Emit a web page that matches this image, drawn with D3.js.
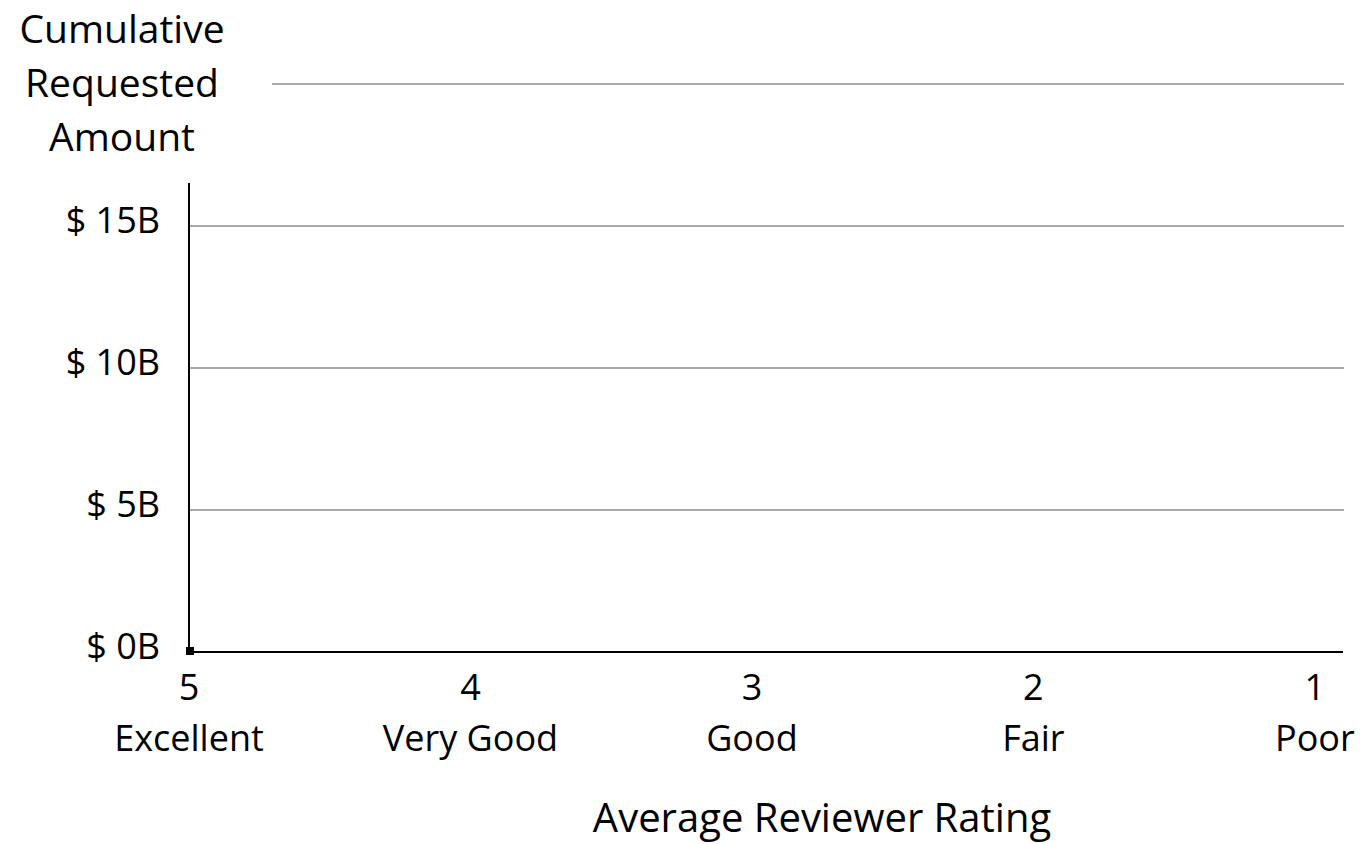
<!DOCTYPE html>
<html>
<head>
<meta charset="utf-8">
<script src="https://cdn.jsdelivr.net/npm/d3@7"></script>
<style>
  body { margin: 0; background: #fff; }
  text { font-family: "Open Sans", sans-serif; fill: #000; }
</style>
</head>
<body>
<svg id="chart" width="1362" height="844"></svg>
<script>
// data
var ratingTicks = [5, 4, 3, 2, 1];
var ratingNames = ["Excellent", "Very Good", "Good", "Fair", "Poor"];
var amountLabels = [0, 5, 10, 15];
var gridValues = [5, 10, 15, 20];
var pointRatings = [5];
var pointAmounts = [0];

var svg = d3.select("#chart");

var x = d3.scaleLinear().domain([5, 0.9]).range([189, 1343]);
var y = d3.scaleLinear().domain([0, 20]).range([652, 84]);

// gridlines
svg.append("g")
  .selectAll("line")
  .data(gridValues)
  .enter().append("line")
  .attr("x1", 189).attr("x2", 1344)
  .attr("y1", function(d){ return y(d); })
  .attr("y2", function(d){ return y(d); })
  .attr("stroke", "#8c8c8c")
  .attr("stroke-width", 1.5);

// axes
svg.append("line")
  .attr("x1", 189).attr("x2", 189)
  .attr("y1", y(0)).attr("y2", y(20))
  .attr("stroke", "#000").attr("stroke-width", 2);
svg.append("line")
  .attr("x1", 189).attr("x2", 1343)
  .attr("y1", y(0)).attr("y2", y(0))
  .attr("stroke", "#000").attr("stroke-width", 2);

// y tick labels
svg.append("g")
  .selectAll("text")
  .data(amountLabels)
  .enter().append("text")
  .attr("x", 160)
  .attr("y", function(d){ return y(d) - 6; })
  .attr("dy", "0.36em")
  .attr("text-anchor", "end")
  .attr("font-size", 36)
  .text(function(d){ return "$ " + d + "B"; });

// x tick labels
var xl = svg.append("g")
  .selectAll("g")
  .data(ratingTicks)
  .enter().append("g")
  .attr("transform", function(d){ return "translate(" + x(d) + ",0)"; });
xl.append("text")
  .attr("y", 687).attr("dy", "0.36em")
  .attr("text-anchor", "middle")
  .attr("font-size", 36)
  .text(function(d){ return d; });
xl.append("text")
  .attr("y", 738).attr("dy", "0.36em")
  .attr("text-anchor", "middle")
  .attr("font-size", 36)
  .text(function(d, i){ return ratingNames[i]; });

// series point(s)
svg.append("g")
  .selectAll("rect")
  .data(pointRatings)
  .enter().append("rect")
  .attr("x", function(d){ return x(d) - 3; })
  .attr("y", function(d, i){ return y(pointAmounts[i]) - 5; })
  .attr("width", 8).attr("height", 8)
  .attr("fill", "#000");

// y axis title box (covers top of axis)
svg.append("rect")
  .attr("x", 0).attr("y", 0)
  .attr("width", 272).attr("height", 183)
  .attr("fill", "#fff");
svg.append("text")
  .attr("text-anchor", "middle")
  .attr("font-size", 39)
  .selectAll("tspan")
  .data(["Cumulative", "Requested", "Amount"])
  .enter().append("tspan")
  .attr("x", 122)
  .attr("y", function(d, i){ return 29 + i * 54; })
  .attr("dy", "0.36em")
  .text(function(d){ return d; });

svg.append("text")
  .attr("x", 822).attr("y", 818).attr("dy", "0.36em")
  .attr("text-anchor", "middle")
  .attr("font-size", 40)
  .text("Average Reviewer Rating");
</script>
</body>
</html>
